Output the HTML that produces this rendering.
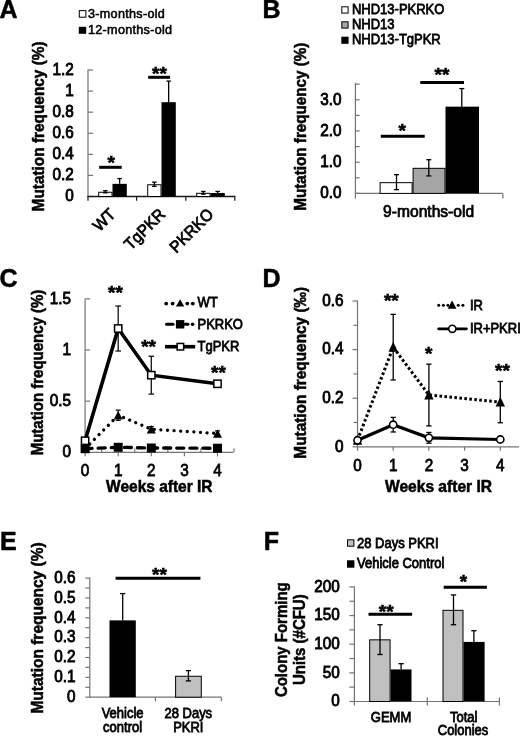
<!DOCTYPE html>
<html><head><meta charset="utf-8"><style>
html,body{margin:0;padding:0;background:#fff;}
svg{display:block;font-family:"Liberation Sans", sans-serif;filter:blur(0.35px);}
text.r{stroke:#000;stroke-width:0.72px;}
text.b{stroke:#000;stroke-width:0.25px;}
</style></head><body>
<svg width="520" height="737" viewBox="0 0 520 737">
<rect x="0" y="0" width="520" height="737" fill="#fff"/>
<text class="b" transform="translate(-0.50 18.00) scale(1 1.0)" font-size="25" font-weight="bold" text-anchor="start" fill="#000" style="stroke-width:0.5px">A</text>
<rect x="79.30" y="10.60" width="6.60" height="6.60" fill="#fff" stroke="#000" stroke-width="1"/>
<rect x="78.80" y="26.80" width="7.40" height="7.00" fill="#000"/>
<text class="r" transform="translate(88.00 18.00) scale(1 1.0)" font-size="12.6" font-weight="normal" text-anchor="start" fill="#000" letter-spacing="0.3" style="stroke-width:0.55px">3-months-old</text>
<text class="r" transform="translate(88.00 34.20) scale(1 1.0)" font-size="12.6" font-weight="normal" text-anchor="start" fill="#000" letter-spacing="0.3" style="stroke-width:0.55px">12-months-old</text>
<line x1="88.00" y1="69.50" x2="88.00" y2="197.00" stroke="#747474" stroke-width="1.2" stroke-linecap="butt"/>
<line x1="88.00" y1="196.50" x2="93.00" y2="196.50" stroke="#747474" stroke-width="1.2" stroke-linecap="butt"/>
<line x1="88.00" y1="175.42" x2="93.00" y2="175.42" stroke="#747474" stroke-width="1.2" stroke-linecap="butt"/>
<line x1="88.00" y1="154.34" x2="93.00" y2="154.34" stroke="#747474" stroke-width="1.2" stroke-linecap="butt"/>
<line x1="88.00" y1="133.26" x2="93.00" y2="133.26" stroke="#747474" stroke-width="1.2" stroke-linecap="butt"/>
<line x1="88.00" y1="112.18" x2="93.00" y2="112.18" stroke="#747474" stroke-width="1.2" stroke-linecap="butt"/>
<line x1="88.00" y1="91.10" x2="93.00" y2="91.10" stroke="#747474" stroke-width="1.2" stroke-linecap="butt"/>
<line x1="88.00" y1="70.02" x2="93.00" y2="70.02" stroke="#747474" stroke-width="1.2" stroke-linecap="butt"/>
<text class="r" transform="translate(73.80 201.24) scale(1 1.06)" font-size="15.3" font-weight="normal" text-anchor="end" fill="#000" style="stroke-width:0.82px">0</text>
<text class="r" transform="translate(73.80 180.16) scale(1 1.06)" font-size="15.3" font-weight="normal" text-anchor="end" fill="#000" style="stroke-width:0.82px">0.2</text>
<text class="r" transform="translate(73.80 159.08) scale(1 1.06)" font-size="15.3" font-weight="normal" text-anchor="end" fill="#000" style="stroke-width:0.82px">0.4</text>
<text class="r" transform="translate(73.80 138.00) scale(1 1.06)" font-size="15.3" font-weight="normal" text-anchor="end" fill="#000" style="stroke-width:0.82px">0.6</text>
<text class="r" transform="translate(73.80 116.92) scale(1 1.06)" font-size="15.3" font-weight="normal" text-anchor="end" fill="#000" style="stroke-width:0.82px">0.8</text>
<text class="r" transform="translate(73.80 95.84) scale(1 1.06)" font-size="15.3" font-weight="normal" text-anchor="end" fill="#000" style="stroke-width:0.82px">1</text>
<text class="r" transform="translate(73.80 74.76) scale(1 1.06)" font-size="15.3" font-weight="normal" text-anchor="end" fill="#000" style="stroke-width:0.82px">1.2</text>
<line x1="88.00" y1="196.50" x2="88.00" y2="200.80" stroke="#1a1a1a" stroke-width="1.2" stroke-linecap="butt"/>
<line x1="136.60" y1="196.50" x2="136.60" y2="200.80" stroke="#1a1a1a" stroke-width="1.2" stroke-linecap="butt"/>
<line x1="185.80" y1="196.50" x2="185.80" y2="200.80" stroke="#1a1a1a" stroke-width="1.2" stroke-linecap="butt"/>
<line x1="234.80" y1="196.50" x2="234.80" y2="200.80" stroke="#1a1a1a" stroke-width="1.2" stroke-linecap="butt"/>
<line x1="87.40" y1="196.50" x2="235.40" y2="196.50" stroke="#1a1a1a" stroke-width="1.3" stroke-linecap="butt"/>
<rect x="98.70" y="192.26" width="13.30" height="4.24" fill="#fff" stroke="#000" stroke-width="1.0"/>
<rect x="112.50" y="183.85" width="14.30" height="12.65" fill="#000"/>
<line x1="105.35" y1="190.70" x2="105.35" y2="192.81" stroke="#000" stroke-width="1.3" stroke-linecap="butt"/>
<line x1="103.10" y1="190.70" x2="107.60" y2="190.70" stroke="#000" stroke-width="1.3" stroke-linecap="butt"/>
<line x1="103.10" y1="192.81" x2="107.60" y2="192.81" stroke="#000" stroke-width="1.3" stroke-linecap="butt"/>
<line x1="119.65" y1="178.58" x2="119.65" y2="183.85" stroke="#000" stroke-width="1.3" stroke-linecap="butt"/>
<line x1="117.40" y1="178.58" x2="121.90" y2="178.58" stroke="#000" stroke-width="1.3" stroke-linecap="butt"/>
<rect x="147.70" y="184.77" width="13.30" height="11.73" fill="#fff" stroke="#000" stroke-width="1.0"/>
<rect x="161.50" y="102.17" width="14.30" height="94.33" fill="#000"/>
<line x1="154.35" y1="182.17" x2="154.35" y2="186.38" stroke="#000" stroke-width="1.3" stroke-linecap="butt"/>
<line x1="152.10" y1="182.17" x2="156.60" y2="182.17" stroke="#000" stroke-width="1.3" stroke-linecap="butt"/>
<line x1="152.10" y1="186.38" x2="156.60" y2="186.38" stroke="#000" stroke-width="1.3" stroke-linecap="butt"/>
<line x1="168.65" y1="81.09" x2="168.65" y2="102.17" stroke="#000" stroke-width="1.3" stroke-linecap="butt"/>
<line x1="166.40" y1="81.09" x2="170.90" y2="81.09" stroke="#000" stroke-width="1.3" stroke-linecap="butt"/>
<rect x="196.70" y="193.31" width="13.30" height="3.19" fill="#fff" stroke="#000" stroke-width="1.0"/>
<rect x="210.50" y="193.02" width="14.30" height="3.48" fill="#000"/>
<line x1="203.35" y1="191.44" x2="203.35" y2="194.18" stroke="#000" stroke-width="1.3" stroke-linecap="butt"/>
<line x1="201.10" y1="191.44" x2="205.60" y2="191.44" stroke="#000" stroke-width="1.3" stroke-linecap="butt"/>
<line x1="201.10" y1="194.18" x2="205.60" y2="194.18" stroke="#000" stroke-width="1.3" stroke-linecap="butt"/>
<line x1="217.65" y1="191.44" x2="217.65" y2="193.02" stroke="#000" stroke-width="1.3" stroke-linecap="butt"/>
<line x1="215.40" y1="191.44" x2="219.90" y2="191.44" stroke="#000" stroke-width="1.3" stroke-linecap="butt"/>
<line x1="99.20" y1="167.30" x2="121.70" y2="167.30" stroke="#000" stroke-width="3" stroke-linecap="butt"/>
<text class="b" transform="translate(111.30 168.98) scale(1 1.0)" font-size="19" font-weight="bold" text-anchor="middle" fill="#000" style="stroke-width:0.6px">*</text>
<line x1="148.20" y1="77.30" x2="170.00" y2="77.30" stroke="#000" stroke-width="3" stroke-linecap="butt"/>
<text class="b" transform="translate(159.50 80.38) scale(1 1.0)" font-size="19" font-weight="bold" text-anchor="middle" fill="#000" style="stroke-width:0.6px">**</text>
<text class="r" transform="translate(116.5 215.3) rotate(-45) scale(1 1.06)" font-size="15.5" font-weight="normal" text-anchor="end">WT</text>
<text class="r" transform="translate(166.2 215.3) rotate(-45) scale(1 1.06)" font-size="15.5" font-weight="normal" text-anchor="end">TgPKR</text>
<text class="r" transform="translate(214.5 215.3) rotate(-45) scale(1 1.06)" font-size="15.5" font-weight="normal" text-anchor="end">PKRKO</text>
<text class="b" transform="translate(43.90 126.40) rotate(-90) scale(1 1.05)" font-size="15.4" font-weight="bold" text-anchor="middle" style="stroke-width:0.5px">Mutation frequency (%)</text>
<text class="b" transform="translate(262.50 18.00) scale(1 1.0)" font-size="25" font-weight="bold" text-anchor="start" fill="#000" style="stroke-width:0.5px">B</text>
<rect x="341.80" y="6.80" width="6.30" height="6.30" fill="#fff" stroke="#000" stroke-width="1"/>
<rect x="341.80" y="21.80" width="6.30" height="6.30" fill="#a6a6a6" stroke="#000" stroke-width="1"/>
<rect x="341.30" y="36.70" width="7.30" height="7.10" fill="#000"/>
<text class="r" transform="translate(352.00 13.70) scale(1 1.06)" font-size="13" font-weight="normal" text-anchor="start" fill="#000">NHD13-PKRKO</text>
<text class="r" transform="translate(352.00 28.80) scale(1 1.06)" font-size="13" font-weight="normal" text-anchor="start" fill="#000">NHD13</text>
<text class="r" transform="translate(352.00 43.80) scale(1 1.06)" font-size="13" font-weight="normal" text-anchor="start" fill="#000">NHD13-TgPKR</text>
<line x1="355.40" y1="82.70" x2="355.40" y2="193.90" stroke="#747474" stroke-width="1.2" stroke-linecap="butt"/>
<line x1="355.40" y1="193.40" x2="359.60" y2="193.40" stroke="#747474" stroke-width="1.2" stroke-linecap="butt"/>
<line x1="355.40" y1="177.80" x2="359.60" y2="177.80" stroke="#747474" stroke-width="1.2" stroke-linecap="butt"/>
<line x1="355.40" y1="162.20" x2="359.60" y2="162.20" stroke="#747474" stroke-width="1.2" stroke-linecap="butt"/>
<line x1="355.40" y1="146.60" x2="359.60" y2="146.60" stroke="#747474" stroke-width="1.2" stroke-linecap="butt"/>
<line x1="355.40" y1="131.00" x2="359.60" y2="131.00" stroke="#747474" stroke-width="1.2" stroke-linecap="butt"/>
<line x1="355.40" y1="115.40" x2="359.60" y2="115.40" stroke="#747474" stroke-width="1.2" stroke-linecap="butt"/>
<line x1="355.40" y1="99.80" x2="359.60" y2="99.80" stroke="#747474" stroke-width="1.2" stroke-linecap="butt"/>
<line x1="355.40" y1="84.20" x2="359.60" y2="84.20" stroke="#747474" stroke-width="1.2" stroke-linecap="butt"/>
<text class="r" transform="translate(341.50 198.14) scale(1 1.06)" font-size="15.3" font-weight="normal" text-anchor="end" fill="#000" style="stroke-width:0.82px">0.0</text>
<text class="r" transform="translate(341.50 166.94) scale(1 1.06)" font-size="15.3" font-weight="normal" text-anchor="end" fill="#000" style="stroke-width:0.82px">1.0</text>
<text class="r" transform="translate(341.50 135.74) scale(1 1.06)" font-size="15.3" font-weight="normal" text-anchor="end" fill="#000" style="stroke-width:0.82px">2.0</text>
<text class="r" transform="translate(341.50 104.54) scale(1 1.06)" font-size="15.3" font-weight="normal" text-anchor="end" fill="#000" style="stroke-width:0.82px">3.0</text>
<line x1="355.40" y1="193.40" x2="502.70" y2="193.40" stroke="#747474" stroke-width="1.2" stroke-linecap="butt"/>
<line x1="502.90" y1="193.40" x2="502.90" y2="198.40" stroke="#747474" stroke-width="1.2" stroke-linecap="butt"/>
<line x1="355.40" y1="193.40" x2="355.40" y2="198.40" stroke="#747474" stroke-width="1.2" stroke-linecap="butt"/>
<rect x="380.10" y="182.67" width="32.00" height="10.73" fill="#fff" stroke="#000" stroke-width="1.0"/>
<rect x="413.10" y="168.32" width="31.90" height="25.08" fill="#a6a6a6" stroke="#000" stroke-width="1.0"/>
<rect x="445.50" y="106.66" width="33.50" height="86.74" fill="#000"/>
<line x1="396.50" y1="174.68" x2="396.50" y2="189.66" stroke="#000" stroke-width="1.3" stroke-linecap="butt"/>
<line x1="394.00" y1="174.68" x2="399.00" y2="174.68" stroke="#000" stroke-width="1.3" stroke-linecap="butt"/>
<line x1="394.00" y1="189.66" x2="399.00" y2="189.66" stroke="#000" stroke-width="1.3" stroke-linecap="butt"/>
<line x1="428.80" y1="159.70" x2="428.80" y2="175.93" stroke="#000" stroke-width="1.3" stroke-linecap="butt"/>
<line x1="426.30" y1="159.70" x2="431.30" y2="159.70" stroke="#000" stroke-width="1.3" stroke-linecap="butt"/>
<line x1="426.30" y1="175.93" x2="431.30" y2="175.93" stroke="#000" stroke-width="1.3" stroke-linecap="butt"/>
<line x1="461.80" y1="88.57" x2="461.80" y2="106.66" stroke="#000" stroke-width="1.3" stroke-linecap="butt"/>
<line x1="459.30" y1="88.57" x2="464.30" y2="88.57" stroke="#000" stroke-width="1.3" stroke-linecap="butt"/>
<line x1="380.80" y1="136.20" x2="424.70" y2="136.20" stroke="#000" stroke-width="3.1" stroke-linecap="butt"/>
<text class="b" transform="translate(402.20 137.48) scale(1 1.0)" font-size="19" font-weight="bold" text-anchor="middle" fill="#000" style="stroke-width:0.6px">*</text>
<line x1="420.30" y1="82.40" x2="464.00" y2="82.40" stroke="#000" stroke-width="3" stroke-linecap="butt"/>
<text class="b" transform="translate(442.00 80.68) scale(1 1.0)" font-size="19" font-weight="bold" text-anchor="middle" fill="#000" style="stroke-width:0.6px">**</text>
<text class="r" transform="translate(428.60 217.30) scale(1 1.0)" font-size="15.6" font-weight="normal" text-anchor="middle" fill="#000">9-months-old</text>
<text class="b" transform="translate(306.40 126.70) rotate(-90) scale(1 1.05)" font-size="15.2" font-weight="bold" text-anchor="middle" style="stroke-width:0.5px">Mutation frequency (%)</text>
<text class="b" transform="translate(-0.50 287.30) scale(1 1.0)" font-size="25" font-weight="bold" text-anchor="start" fill="#000" style="stroke-width:0.5px">C</text>
<line x1="85.10" y1="299.00" x2="85.10" y2="452.80" stroke="#747474" stroke-width="1.2" stroke-linecap="butt"/>
<line x1="85.10" y1="452.30" x2="90.10" y2="452.30" stroke="#747474" stroke-width="1.2" stroke-linecap="butt"/>
<line x1="85.10" y1="401.15" x2="90.10" y2="401.15" stroke="#747474" stroke-width="1.2" stroke-linecap="butt"/>
<line x1="85.10" y1="350.00" x2="90.10" y2="350.00" stroke="#747474" stroke-width="1.2" stroke-linecap="butt"/>
<line x1="85.10" y1="298.85" x2="90.10" y2="298.85" stroke="#747474" stroke-width="1.2" stroke-linecap="butt"/>
<text class="r" transform="translate(70.90 457.04) scale(1 1.06)" font-size="15.3" font-weight="normal" text-anchor="end" fill="#000" style="stroke-width:0.82px">0</text>
<text class="r" transform="translate(70.90 405.89) scale(1 1.06)" font-size="15.3" font-weight="normal" text-anchor="end" fill="#000" style="stroke-width:0.82px">0.5</text>
<text class="r" transform="translate(70.90 354.74) scale(1 1.06)" font-size="15.3" font-weight="normal" text-anchor="end" fill="#000" style="stroke-width:0.82px">1</text>
<text class="r" transform="translate(70.90 303.59) scale(1 1.06)" font-size="15.3" font-weight="normal" text-anchor="end" fill="#000" style="stroke-width:0.82px">1.5</text>
<line x1="85.10" y1="452.30" x2="233.50" y2="452.30" stroke="#747474" stroke-width="1.2" stroke-linecap="butt"/>
<line x1="85.10" y1="452.30" x2="85.10" y2="456.30" stroke="#747474" stroke-width="1.2" stroke-linecap="butt"/>
<line x1="101.65" y1="448.30" x2="101.65" y2="452.30" stroke="#747474" stroke-width="1.1" stroke-linecap="butt"/>
<line x1="118.20" y1="452.30" x2="118.20" y2="456.30" stroke="#747474" stroke-width="1.2" stroke-linecap="butt"/>
<line x1="134.75" y1="448.30" x2="134.75" y2="452.30" stroke="#747474" stroke-width="1.1" stroke-linecap="butt"/>
<line x1="151.30" y1="452.30" x2="151.30" y2="456.30" stroke="#747474" stroke-width="1.2" stroke-linecap="butt"/>
<line x1="167.85" y1="448.30" x2="167.85" y2="452.30" stroke="#747474" stroke-width="1.1" stroke-linecap="butt"/>
<line x1="184.40" y1="452.30" x2="184.40" y2="456.30" stroke="#747474" stroke-width="1.2" stroke-linecap="butt"/>
<line x1="200.95" y1="448.30" x2="200.95" y2="452.30" stroke="#747474" stroke-width="1.1" stroke-linecap="butt"/>
<line x1="217.50" y1="452.30" x2="217.50" y2="456.30" stroke="#747474" stroke-width="1.2" stroke-linecap="butt"/>
<line x1="234.05" y1="448.30" x2="234.05" y2="452.30" stroke="#747474" stroke-width="1.1" stroke-linecap="butt"/>
<text class="r" transform="translate(85.10 476.00) scale(1 1.06)" font-size="15.3" font-weight="normal" text-anchor="middle" fill="#000">0</text>
<text class="r" transform="translate(118.20 476.00) scale(1 1.06)" font-size="15.3" font-weight="normal" text-anchor="middle" fill="#000">1</text>
<text class="r" transform="translate(151.30 476.00) scale(1 1.06)" font-size="15.3" font-weight="normal" text-anchor="middle" fill="#000">2</text>
<text class="r" transform="translate(184.40 476.00) scale(1 1.06)" font-size="15.3" font-weight="normal" text-anchor="middle" fill="#000">3</text>
<text class="r" transform="translate(217.50 476.00) scale(1 1.06)" font-size="15.3" font-weight="normal" text-anchor="middle" fill="#000">4</text>
<text class="b" transform="translate(159.30 492.00) scale(1 1.08)" font-size="15.5" font-weight="bold" text-anchor="middle" fill="#000" style="stroke-width:0.5px">Weeks after IR</text>
<text class="b" transform="translate(43.00 372.50) rotate(-90) scale(1 1.05)" font-size="15.0" font-weight="bold" text-anchor="middle" style="stroke-width:0.5px">Mutation frequency (%)</text>
<polyline points="85.10,448.72 118.20,415.27 151.30,429.18 217.50,433.48" fill="none" stroke="#000" stroke-width="3.3" stroke-dasharray="0.01 6.6" stroke-linecap="round"/>
<polyline points="85.10,448.72 118.20,447.29 151.30,448.00 217.50,448.21" fill="none" stroke="#000" stroke-width="3.4" stroke-dasharray="7 6.1" stroke-linecap="round"/>
<polyline points="85.10,440.74 118.20,328.52 151.30,375.17 217.50,383.76" fill="none" stroke="#000" stroke-width="3.6" stroke-linejoin="miter"/>
<line x1="118.20" y1="306.01" x2="118.20" y2="351.02" stroke="#111" stroke-width="1.3" stroke-linecap="butt"/>
<line x1="115.40" y1="306.01" x2="121.00" y2="306.01" stroke="#111" stroke-width="1.3" stroke-linecap="butt"/>
<line x1="115.40" y1="351.02" x2="121.00" y2="351.02" stroke="#111" stroke-width="1.3" stroke-linecap="butt"/>
<line x1="151.30" y1="356.24" x2="151.30" y2="394.09" stroke="#111" stroke-width="1.3" stroke-linecap="butt"/>
<line x1="148.50" y1="356.24" x2="154.10" y2="356.24" stroke="#111" stroke-width="1.3" stroke-linecap="butt"/>
<line x1="148.50" y1="394.09" x2="154.10" y2="394.09" stroke="#111" stroke-width="1.3" stroke-linecap="butt"/>
<line x1="118.20" y1="410.15" x2="118.20" y2="420.38" stroke="#111" stroke-width="1.3" stroke-linecap="butt"/>
<line x1="115.70" y1="410.15" x2="120.70" y2="410.15" stroke="#111" stroke-width="1.3" stroke-linecap="butt"/>
<line x1="115.70" y1="420.38" x2="120.70" y2="420.38" stroke="#111" stroke-width="1.3" stroke-linecap="butt"/>
<line x1="151.30" y1="426.62" x2="151.30" y2="431.74" stroke="#111" stroke-width="1.3" stroke-linecap="butt"/>
<line x1="148.80" y1="426.62" x2="153.80" y2="426.62" stroke="#111" stroke-width="1.3" stroke-linecap="butt"/>
<line x1="148.80" y1="431.74" x2="153.80" y2="431.74" stroke="#111" stroke-width="1.3" stroke-linecap="butt"/>
<line x1="217.50" y1="430.92" x2="217.50" y2="436.03" stroke="#111" stroke-width="1.3" stroke-linecap="butt"/>
<line x1="215.00" y1="430.92" x2="220.00" y2="430.92" stroke="#111" stroke-width="1.3" stroke-linecap="butt"/>
<line x1="215.00" y1="436.03" x2="220.00" y2="436.03" stroke="#111" stroke-width="1.3" stroke-linecap="butt"/>
<polygon points="85.10,444.42 80.60,453.02 89.60,453.02" fill="#000"/>
<polygon points="118.20,410.97 113.70,419.57 122.70,419.57" fill="#000"/>
<polygon points="151.30,424.88 146.80,433.48 155.80,433.48" fill="#000"/>
<polygon points="217.50,429.18 213.00,437.78 222.00,437.78" fill="#000"/>
<rect x="80.60" y="444.22" width="9.00" height="9.00" fill="#000"/>
<rect x="113.70" y="442.79" width="9.00" height="9.00" fill="#000"/>
<rect x="146.80" y="443.50" width="9.00" height="9.00" fill="#000"/>
<rect x="213.00" y="443.71" width="9.00" height="9.00" fill="#000"/>
<rect x="81.45" y="437.09" width="7.30" height="7.30" fill="#fff" stroke="#000" stroke-width="1.5"/>
<rect x="114.55" y="324.87" width="7.30" height="7.30" fill="#fff" stroke="#000" stroke-width="1.5"/>
<rect x="147.65" y="371.52" width="7.30" height="7.30" fill="#fff" stroke="#000" stroke-width="1.5"/>
<rect x="213.85" y="380.11" width="7.30" height="7.30" fill="#fff" stroke="#000" stroke-width="1.5"/>
<text class="b" transform="translate(115.50 298.68) scale(1 1.0)" font-size="19" font-weight="bold" text-anchor="middle" fill="#000" style="stroke-width:0.6px">**</text>
<text class="b" transform="translate(148.60 353.08) scale(1 1.0)" font-size="19" font-weight="bold" text-anchor="middle" fill="#000" style="stroke-width:0.6px">**</text>
<text class="b" transform="translate(218.50 378.78) scale(1 1.0)" font-size="19" font-weight="bold" text-anchor="middle" fill="#000" style="stroke-width:0.6px">**</text>
<circle cx="166.2" cy="303.6" r="1.9" fill="#000"/>
<circle cx="172.6" cy="303.6" r="1.9" fill="#000"/>
<circle cx="187.3" cy="303.6" r="1.9" fill="#000"/>
<circle cx="192.8" cy="303.6" r="1.9" fill="#000"/>
<polygon points="180.10,299.20 175.90,306.60 184.30,306.60" fill="#000"/>
<line x1="166.5" y1="324.3" x2="173" y2="324.3" stroke="#000" stroke-width="3" stroke-linecap="round"/>
<line x1="185" y1="324.3" x2="188" y2="324.3" stroke="#000" stroke-width="3" stroke-linecap="round"/>
<circle cx="192.6" cy="324.3" r="1.8" fill="#000"/>
<rect x="175.90" y="320.10" width="8.40" height="8.40" fill="#000"/>
<line x1="165.00" y1="346.70" x2="195.20" y2="346.70" stroke="#000" stroke-width="3.6" stroke-linecap="butt"/>
<rect x="177.15" y="343.45" width="6.50" height="6.50" fill="#fff" stroke="#000" stroke-width="1.5"/>
<text class="r" transform="translate(197.50 307.40) scale(1 1.06)" font-size="13" font-weight="normal" text-anchor="start" fill="#000">WT</text>
<text class="r" transform="translate(197.50 328.80) scale(1 1.06)" font-size="13" font-weight="normal" text-anchor="start" fill="#000">PKRKO</text>
<text class="r" transform="translate(197.50 350.80) scale(1 1.06)" font-size="13" font-weight="normal" text-anchor="start" fill="#000">TgPKR</text>
<text class="b" transform="translate(262.50 286.70) scale(1 1.0)" font-size="25" font-weight="bold" text-anchor="start" fill="#000" style="stroke-width:0.5px">D</text>
<line x1="357.50" y1="300.50" x2="357.50" y2="447.30" stroke="#747474" stroke-width="1.2" stroke-linecap="butt"/>
<line x1="352.50" y1="446.80" x2="357.50" y2="446.80" stroke="#747474" stroke-width="1.2" stroke-linecap="butt"/>
<line x1="353.50" y1="422.50" x2="357.50" y2="422.50" stroke="#747474" stroke-width="1.2" stroke-linecap="butt"/>
<line x1="352.50" y1="398.20" x2="357.50" y2="398.20" stroke="#747474" stroke-width="1.2" stroke-linecap="butt"/>
<line x1="353.50" y1="373.90" x2="357.50" y2="373.90" stroke="#747474" stroke-width="1.2" stroke-linecap="butt"/>
<line x1="352.50" y1="349.60" x2="357.50" y2="349.60" stroke="#747474" stroke-width="1.2" stroke-linecap="butt"/>
<line x1="353.50" y1="325.30" x2="357.50" y2="325.30" stroke="#747474" stroke-width="1.2" stroke-linecap="butt"/>
<line x1="352.50" y1="301.00" x2="357.50" y2="301.00" stroke="#747474" stroke-width="1.2" stroke-linecap="butt"/>
<text class="r" transform="translate(343.60 451.54) scale(1 1.06)" font-size="15.3" font-weight="normal" text-anchor="end" fill="#000" style="stroke-width:0.82px">0</text>
<text class="r" transform="translate(343.60 402.94) scale(1 1.06)" font-size="15.3" font-weight="normal" text-anchor="end" fill="#000" style="stroke-width:0.82px">0.2</text>
<text class="r" transform="translate(343.60 354.34) scale(1 1.06)" font-size="15.3" font-weight="normal" text-anchor="end" fill="#000" style="stroke-width:0.82px">0.4</text>
<text class="r" transform="translate(343.60 305.74) scale(1 1.06)" font-size="15.3" font-weight="normal" text-anchor="end" fill="#000" style="stroke-width:0.82px">0.6</text>
<line x1="357.50" y1="446.80" x2="519.00" y2="446.80" stroke="#747474" stroke-width="1.2" stroke-linecap="butt"/>
<line x1="357.50" y1="446.80" x2="357.50" y2="450.80" stroke="#747474" stroke-width="1.2" stroke-linecap="butt"/>
<line x1="393.20" y1="446.80" x2="393.20" y2="450.80" stroke="#747474" stroke-width="1.2" stroke-linecap="butt"/>
<line x1="428.90" y1="446.80" x2="428.90" y2="450.80" stroke="#747474" stroke-width="1.2" stroke-linecap="butt"/>
<line x1="464.60" y1="446.80" x2="464.60" y2="450.80" stroke="#747474" stroke-width="1.2" stroke-linecap="butt"/>
<line x1="500.30" y1="446.80" x2="500.30" y2="450.80" stroke="#747474" stroke-width="1.2" stroke-linecap="butt"/>
<text class="r" transform="translate(357.50 470.60) scale(1 1.06)" font-size="15.3" font-weight="normal" text-anchor="middle" fill="#000">0</text>
<text class="r" transform="translate(393.20 470.60) scale(1 1.06)" font-size="15.3" font-weight="normal" text-anchor="middle" fill="#000">1</text>
<text class="r" transform="translate(428.90 470.60) scale(1 1.06)" font-size="15.3" font-weight="normal" text-anchor="middle" fill="#000">2</text>
<text class="r" transform="translate(464.60 470.60) scale(1 1.06)" font-size="15.3" font-weight="normal" text-anchor="middle" fill="#000">3</text>
<text class="r" transform="translate(500.30 470.60) scale(1 1.06)" font-size="15.3" font-weight="normal" text-anchor="middle" fill="#000">4</text>
<text class="b" transform="translate(438.50 492.20) scale(1 1.08)" font-size="15.6" font-weight="bold" text-anchor="middle" fill="#000" style="stroke-width:0.5px">Weeks after IR</text>
<text class="b" transform="translate(306.20 372.80) rotate(-90) scale(1 1.05)" font-size="15.4" font-weight="bold" text-anchor="middle" style="stroke-width:0.5px">Mutation frequency (&#8240;)</text>
<polyline points="357.50,440.24 393.20,347.17 428.90,395.04 500.30,402.09" fill="none" stroke="#000" stroke-width="3" stroke-dasharray="2.6 2.4"/>
<polyline points="357.50,440.24 393.20,424.69 428.90,437.81 500.30,439.51" fill="none" stroke="#000" stroke-width="3.2"/>
<line x1="393.20" y1="314.37" x2="393.20" y2="379.98" stroke="#000" stroke-width="1.3" stroke-linecap="butt"/>
<line x1="390.55" y1="314.37" x2="395.85" y2="314.37" stroke="#000" stroke-width="1.3" stroke-linecap="butt"/>
<line x1="390.55" y1="379.98" x2="395.85" y2="379.98" stroke="#000" stroke-width="1.3" stroke-linecap="butt"/>
<line x1="428.90" y1="364.18" x2="428.90" y2="425.90" stroke="#000" stroke-width="1.3" stroke-linecap="butt"/>
<line x1="426.25" y1="364.18" x2="431.55" y2="364.18" stroke="#000" stroke-width="1.3" stroke-linecap="butt"/>
<line x1="426.25" y1="425.90" x2="431.55" y2="425.90" stroke="#000" stroke-width="1.3" stroke-linecap="butt"/>
<line x1="500.30" y1="381.43" x2="500.30" y2="422.74" stroke="#000" stroke-width="1.3" stroke-linecap="butt"/>
<line x1="497.65" y1="381.43" x2="502.95" y2="381.43" stroke="#000" stroke-width="1.3" stroke-linecap="butt"/>
<line x1="497.65" y1="422.74" x2="502.95" y2="422.74" stroke="#000" stroke-width="1.3" stroke-linecap="butt"/>
<line x1="393.20" y1="417.40" x2="393.20" y2="431.98" stroke="#000" stroke-width="1.3" stroke-linecap="butt"/>
<line x1="390.55" y1="417.40" x2="395.85" y2="417.40" stroke="#000" stroke-width="1.3" stroke-linecap="butt"/>
<line x1="390.55" y1="431.98" x2="395.85" y2="431.98" stroke="#000" stroke-width="1.3" stroke-linecap="butt"/>
<line x1="428.90" y1="432.46" x2="428.90" y2="443.16" stroke="#000" stroke-width="1.3" stroke-linecap="butt"/>
<line x1="426.25" y1="432.46" x2="431.55" y2="432.46" stroke="#000" stroke-width="1.3" stroke-linecap="butt"/>
<line x1="426.25" y1="443.16" x2="431.55" y2="443.16" stroke="#000" stroke-width="1.3" stroke-linecap="butt"/>
<polygon points="357.50,434.94 352.80,444.74 362.20,444.74" fill="#000"/>
<polygon points="393.20,341.87 388.50,351.67 397.90,351.67" fill="#000"/>
<polygon points="428.90,389.74 424.20,399.54 433.60,399.54" fill="#000"/>
<polygon points="500.30,396.79 495.60,406.59 505.00,406.59" fill="#000"/>
<circle cx="357.50" cy="440.24" r="3.6" fill="#fff" stroke="#000" stroke-width="1.6"/>
<circle cx="393.20" cy="424.69" r="3.6" fill="#fff" stroke="#000" stroke-width="1.6"/>
<circle cx="428.90" cy="437.81" r="3.6" fill="#fff" stroke="#000" stroke-width="1.6"/>
<circle cx="500.30" cy="439.51" r="3.6" fill="#fff" stroke="#000" stroke-width="1.6"/>
<text class="b" transform="translate(391.30 307.18) scale(1 1.0)" font-size="19" font-weight="bold" text-anchor="middle" fill="#000" style="stroke-width:0.6px">**</text>
<text class="b" transform="translate(428.70 360.38) scale(1 1.0)" font-size="19" font-weight="bold" text-anchor="middle" fill="#000" style="stroke-width:0.6px">*</text>
<text class="b" transform="translate(502.50 377.18) scale(1 1.0)" font-size="19" font-weight="bold" text-anchor="middle" fill="#000" style="stroke-width:0.6px">**</text>
<circle cx="438.7" cy="305.2" r="1.5" fill="#000"/>
<circle cx="443.4" cy="305.2" r="1.5" fill="#000"/>
<circle cx="447.9" cy="305.2" r="1.5" fill="#000"/>
<circle cx="458.2" cy="305.2" r="1.5" fill="#000"/>
<circle cx="462.9" cy="305.2" r="1.5" fill="#000"/>
<polygon points="452.10,300.60 447.70,308.80 456.50,308.80" fill="#000"/>
<line x1="438.60" y1="328.80" x2="466.40" y2="328.80" stroke="#000" stroke-width="2.8" stroke-linecap="round"/>
<circle cx="452.30" cy="328.80" r="3.6" fill="#fff" stroke="#000" stroke-width="1.6"/>
<text class="r" transform="translate(469.90 309.80) scale(1 1.06)" font-size="13" font-weight="normal" text-anchor="start" fill="#000">IR</text>
<text class="r" transform="translate(469.90 333.00) scale(1 1.06)" font-size="13" font-weight="normal" text-anchor="start" fill="#000">IR+PKRI</text>
<text class="b" transform="translate(0.00 549.80) scale(1 1.0)" font-size="25" font-weight="bold" text-anchor="start" fill="#000" style="stroke-width:0.5px">E</text>
<line x1="89.80" y1="577.60" x2="89.80" y2="697.70" stroke="#747474" stroke-width="1.2" stroke-linecap="butt"/>
<line x1="85.30" y1="697.20" x2="89.80" y2="697.20" stroke="#747474" stroke-width="1.2" stroke-linecap="butt"/>
<line x1="85.30" y1="687.28" x2="89.80" y2="687.28" stroke="#747474" stroke-width="1.2" stroke-linecap="butt"/>
<line x1="85.30" y1="677.35" x2="89.80" y2="677.35" stroke="#747474" stroke-width="1.2" stroke-linecap="butt"/>
<line x1="85.30" y1="667.43" x2="89.80" y2="667.43" stroke="#747474" stroke-width="1.2" stroke-linecap="butt"/>
<line x1="85.30" y1="657.50" x2="89.80" y2="657.50" stroke="#747474" stroke-width="1.2" stroke-linecap="butt"/>
<line x1="85.30" y1="647.58" x2="89.80" y2="647.58" stroke="#747474" stroke-width="1.2" stroke-linecap="butt"/>
<line x1="85.30" y1="637.65" x2="89.80" y2="637.65" stroke="#747474" stroke-width="1.2" stroke-linecap="butt"/>
<line x1="85.30" y1="627.73" x2="89.80" y2="627.73" stroke="#747474" stroke-width="1.2" stroke-linecap="butt"/>
<line x1="85.30" y1="617.80" x2="89.80" y2="617.80" stroke="#747474" stroke-width="1.2" stroke-linecap="butt"/>
<line x1="85.30" y1="607.88" x2="89.80" y2="607.88" stroke="#747474" stroke-width="1.2" stroke-linecap="butt"/>
<line x1="85.30" y1="597.95" x2="89.80" y2="597.95" stroke="#747474" stroke-width="1.2" stroke-linecap="butt"/>
<line x1="85.30" y1="588.03" x2="89.80" y2="588.03" stroke="#747474" stroke-width="1.2" stroke-linecap="butt"/>
<line x1="85.30" y1="578.10" x2="89.80" y2="578.10" stroke="#747474" stroke-width="1.2" stroke-linecap="butt"/>
<text class="r" transform="translate(75.60 701.94) scale(1 1.06)" font-size="15.3" font-weight="normal" text-anchor="end" fill="#000" style="stroke-width:0.82px">0</text>
<text class="r" transform="translate(75.60 682.09) scale(1 1.06)" font-size="15.3" font-weight="normal" text-anchor="end" fill="#000" style="stroke-width:0.82px">0.1</text>
<text class="r" transform="translate(75.60 662.24) scale(1 1.06)" font-size="15.3" font-weight="normal" text-anchor="end" fill="#000" style="stroke-width:0.82px">0.2</text>
<text class="r" transform="translate(75.60 642.39) scale(1 1.06)" font-size="15.3" font-weight="normal" text-anchor="end" fill="#000" style="stroke-width:0.82px">0.3</text>
<text class="r" transform="translate(75.60 622.54) scale(1 1.06)" font-size="15.3" font-weight="normal" text-anchor="end" fill="#000" style="stroke-width:0.82px">0.4</text>
<text class="r" transform="translate(75.60 602.69) scale(1 1.06)" font-size="15.3" font-weight="normal" text-anchor="end" fill="#000" style="stroke-width:0.82px">0.5</text>
<text class="r" transform="translate(75.60 582.84) scale(1 1.06)" font-size="15.3" font-weight="normal" text-anchor="end" fill="#000" style="stroke-width:0.82px">0.6</text>
<line x1="89.80" y1="697.20" x2="221.40" y2="697.20" stroke="#747474" stroke-width="1.2" stroke-linecap="butt"/>
<line x1="155.40" y1="697.20" x2="155.40" y2="701.20" stroke="#747474" stroke-width="1.2" stroke-linecap="butt"/>
<line x1="221.40" y1="697.20" x2="221.40" y2="701.20" stroke="#747474" stroke-width="1.2" stroke-linecap="butt"/>
<rect x="109.50" y="620.38" width="26.30" height="76.82" fill="#000"/>
<rect x="175.60" y="676.26" width="25.70" height="20.94" fill="#c0c0c0" stroke="#000" stroke-width="1.0"/>
<line x1="122.70" y1="593.58" x2="122.70" y2="620.38" stroke="#000" stroke-width="1.3" stroke-linecap="butt"/>
<line x1="120.05" y1="593.58" x2="125.35" y2="593.58" stroke="#000" stroke-width="1.3" stroke-linecap="butt"/>
<line x1="188.40" y1="670.60" x2="188.40" y2="680.92" stroke="#000" stroke-width="1.3" stroke-linecap="butt"/>
<line x1="185.75" y1="670.60" x2="191.05" y2="670.60" stroke="#000" stroke-width="1.3" stroke-linecap="butt"/>
<line x1="185.75" y1="680.92" x2="191.05" y2="680.92" stroke="#000" stroke-width="1.3" stroke-linecap="butt"/>
<line x1="115.60" y1="578.30" x2="200.40" y2="578.30" stroke="#000" stroke-width="3" stroke-linecap="butt"/>
<text class="b" transform="translate(159.50 580.78) scale(1 1.0)" font-size="19" font-weight="bold" text-anchor="middle" fill="#000" style="stroke-width:0.6px">**</text>
<text class="r" transform="translate(122.60 718.00) scale(1 1.06)" font-size="13.0" font-weight="normal" text-anchor="middle" fill="#000">Vehicle</text>
<text class="r" transform="translate(122.60 731.60) scale(1 1.06)" font-size="13.0" font-weight="normal" text-anchor="middle" fill="#000">control</text>
<text class="r" transform="translate(188.30 718.00) scale(1 1.06)" font-size="13.0" font-weight="normal" text-anchor="middle" fill="#000">28 Days</text>
<text class="r" transform="translate(188.30 731.60) scale(1 1.06)" font-size="13.0" font-weight="normal" text-anchor="middle" fill="#000">PKRI</text>
<text class="b" transform="translate(42.60 628.00) rotate(-90) scale(1 1.05)" font-size="15.5" font-weight="bold" text-anchor="middle" style="stroke-width:0.5px">Mutation frequency (%)</text>
<text class="b" transform="translate(263.80 549.50) scale(1 1.0)" font-size="25" font-weight="bold" text-anchor="start" fill="#000" style="stroke-width:0.5px">F</text>
<rect x="347.50" y="539.80" width="6.40" height="6.40" fill="#c0c0c0" stroke="#000" stroke-width="1"/>
<rect x="347.00" y="560.30" width="7.40" height="7.40" fill="#000"/>
<text class="r" transform="translate(357.00 548.00) scale(1 1.06)" font-size="13.0" font-weight="normal" text-anchor="start" fill="#000">28 Days PKRI</text>
<text class="r" transform="translate(357.00 567.60) scale(1 1.06)" font-size="13.0" font-weight="normal" text-anchor="start" fill="#000">Vehicle Control</text>
<line x1="354.40" y1="586.50" x2="354.40" y2="705.50" stroke="#747474" stroke-width="1.2" stroke-linecap="butt"/>
<line x1="349.40" y1="701.50" x2="354.40" y2="701.50" stroke="#747474" stroke-width="1.2" stroke-linecap="butt"/>
<line x1="349.40" y1="687.17" x2="354.40" y2="687.17" stroke="#747474" stroke-width="1.2" stroke-linecap="butt"/>
<line x1="349.40" y1="672.85" x2="354.40" y2="672.85" stroke="#747474" stroke-width="1.2" stroke-linecap="butt"/>
<line x1="349.40" y1="658.52" x2="354.40" y2="658.52" stroke="#747474" stroke-width="1.2" stroke-linecap="butt"/>
<line x1="349.40" y1="644.20" x2="354.40" y2="644.20" stroke="#747474" stroke-width="1.2" stroke-linecap="butt"/>
<line x1="349.40" y1="629.88" x2="354.40" y2="629.88" stroke="#747474" stroke-width="1.2" stroke-linecap="butt"/>
<line x1="349.40" y1="615.55" x2="354.40" y2="615.55" stroke="#747474" stroke-width="1.2" stroke-linecap="butt"/>
<line x1="349.40" y1="601.23" x2="354.40" y2="601.23" stroke="#747474" stroke-width="1.2" stroke-linecap="butt"/>
<line x1="349.40" y1="586.90" x2="354.40" y2="586.90" stroke="#747474" stroke-width="1.2" stroke-linecap="butt"/>
<text class="r" transform="translate(339.80 706.24) scale(1 1.06)" font-size="15.3" font-weight="normal" text-anchor="end" fill="#000" style="stroke-width:0.82px">0</text>
<text class="r" transform="translate(339.80 677.59) scale(1 1.06)" font-size="15.3" font-weight="normal" text-anchor="end" fill="#000" style="stroke-width:0.82px">50</text>
<text class="r" transform="translate(339.80 648.94) scale(1 1.06)" font-size="15.3" font-weight="normal" text-anchor="end" fill="#000" style="stroke-width:0.82px">100</text>
<text class="r" transform="translate(339.80 620.29) scale(1 1.06)" font-size="15.3" font-weight="normal" text-anchor="end" fill="#000" style="stroke-width:0.82px">150</text>
<text class="r" transform="translate(339.80 591.64) scale(1 1.06)" font-size="15.3" font-weight="normal" text-anchor="end" fill="#000" style="stroke-width:0.82px">200</text>
<line x1="354.40" y1="701.50" x2="499.40" y2="701.50" stroke="#747474" stroke-width="1.2" stroke-linecap="butt"/>
<line x1="427.30" y1="697.50" x2="427.30" y2="705.50" stroke="#747474" stroke-width="1.2" stroke-linecap="butt"/>
<line x1="499.40" y1="697.50" x2="499.40" y2="705.50" stroke="#747474" stroke-width="1.2" stroke-linecap="butt"/>
<rect x="369.70" y="639.83" width="20.40" height="61.67" fill="#c0c0c0" stroke="#000" stroke-width="1.0"/>
<rect x="390.60" y="669.41" width="20.90" height="32.09" fill="#000"/>
<rect x="443.00" y="610.32" width="20.00" height="91.18" fill="#c0c0c0" stroke="#000" stroke-width="1.0"/>
<rect x="463.50" y="641.91" width="21.10" height="59.59" fill="#000"/>
<line x1="380.00" y1="624.72" x2="380.00" y2="654.51" stroke="#000" stroke-width="1.3" stroke-linecap="butt"/>
<line x1="377.35" y1="624.72" x2="382.65" y2="624.72" stroke="#000" stroke-width="1.3" stroke-linecap="butt"/>
<line x1="377.35" y1="654.51" x2="382.65" y2="654.51" stroke="#000" stroke-width="1.3" stroke-linecap="butt"/>
<line x1="401.10" y1="663.68" x2="401.10" y2="669.41" stroke="#000" stroke-width="1.3" stroke-linecap="butt"/>
<line x1="398.45" y1="663.68" x2="403.75" y2="663.68" stroke="#000" stroke-width="1.3" stroke-linecap="butt"/>
<line x1="453.50" y1="594.92" x2="453.50" y2="624.72" stroke="#000" stroke-width="1.3" stroke-linecap="butt"/>
<line x1="450.85" y1="594.92" x2="456.15" y2="594.92" stroke="#000" stroke-width="1.3" stroke-linecap="butt"/>
<line x1="450.85" y1="624.72" x2="456.15" y2="624.72" stroke="#000" stroke-width="1.3" stroke-linecap="butt"/>
<line x1="473.90" y1="630.73" x2="473.90" y2="641.91" stroke="#000" stroke-width="1.3" stroke-linecap="butt"/>
<line x1="471.25" y1="630.73" x2="476.55" y2="630.73" stroke="#000" stroke-width="1.3" stroke-linecap="butt"/>
<line x1="368.50" y1="614.20" x2="412.10" y2="614.20" stroke="#000" stroke-width="3" stroke-linecap="butt"/>
<text class="b" transform="translate(386.20 617.98) scale(1 1.0)" font-size="19" font-weight="bold" text-anchor="middle" fill="#000" style="stroke-width:0.6px">**</text>
<line x1="443.70" y1="587.30" x2="486.90" y2="587.30" stroke="#000" stroke-width="3" stroke-linecap="butt"/>
<text class="b" transform="translate(463.50 588.38) scale(1 1.0)" font-size="19" font-weight="bold" text-anchor="middle" fill="#000" style="stroke-width:0.6px">*</text>
<text class="r" transform="translate(391.00 721.90) scale(1 1.06)" font-size="13.0" font-weight="normal" text-anchor="middle" fill="#000">GEMM</text>
<text class="r" transform="translate(463.70 721.90) scale(1 1.06)" font-size="13.0" font-weight="normal" text-anchor="middle" fill="#000">Total</text>
<text class="r" transform="translate(463.00 735.40) scale(1 1.06)" font-size="13.0" font-weight="normal" text-anchor="middle" fill="#000">Colonies</text>
<text class="b" transform="translate(287.00 639.70) rotate(-90) scale(1 1.05)" font-size="15.0" font-weight="bold" text-anchor="middle" style="stroke-width:0.5px">Colony Forming</text>
<text class="b" transform="translate(305.30 639.70) rotate(-90) scale(1 1.05)" font-size="15.0" font-weight="bold" text-anchor="middle" style="stroke-width:0.5px">Units (#CFU)</text>
</svg>
</body></html>
